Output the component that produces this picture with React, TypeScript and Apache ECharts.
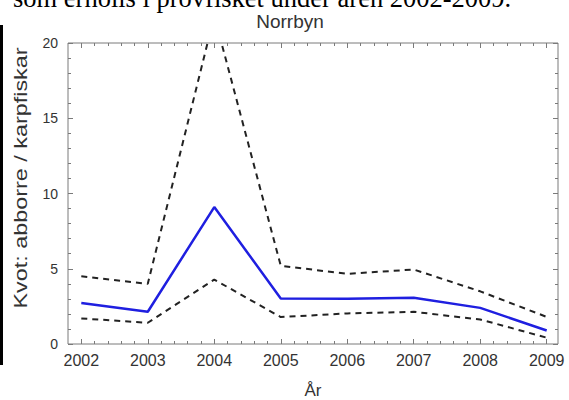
import React, { useEffect, useRef } from "react";
import * as echarts from "echarts";

const years = [2002, 2003, 2004, 2005, 2006, 2007, 2008, 2009];
const ratio = [2.73, 2.14, 9.1, 3.03, 3.0, 3.07, 2.4, 0.9];
const upper = [4.5, 4.0, 21.8, 5.2, 4.66, 4.95, 3.5, 1.8];
const lower = [1.7, 1.41, 4.28, 1.79, 2.03, 2.14, 1.63, 0.42];
const xMin = 2001.8;
const xMax = 2009.17;
const minorX: number[] = [];
for (let y = 2001; y <= 2009; y++) {
  for (let k = 1; k <= 4; k++) {
    const v = Math.round((y + k * 0.2) * 10) / 10;
    if (v > xMin && v < xMax) minorX.push(v);
  }
}

const FONT = "'Liberation Sans', Arial, sans-serif";
const FRAME = "#7a7a7a";
const LABEL = "#333";

export default function App() {
  const ref = useRef<HTMLDivElement>(null);
  useEffect(() => {
    document.body.style.margin = "0";
    const chart = echarts.init(ref.current!, null, { renderer: "svg" });
    const xAx = (pos: string, ticks: number[], len: number, labels: boolean) => ({
      type: "value",
      min: xMin,
      max: xMax,
      position: pos,
      axisLine: { show: false, onZero: false },
      axisTick: { show: true, inside: true, length: len, customValues: ticks, lineStyle: { color: FRAME, width: 1 } },
      axisLabel: labels
        ? { show: true, customValues: ticks, formatter: (v: number) => String(Math.round(v)), fontSize: 16, fontFamily: FONT, color: LABEL, margin: 8 }
        : { show: false },
      splitLine: { show: false },
    });
    const yAx = (pos: string, labels: boolean) => ({
      type: "value",
      min: 0,
      max: 20,
      interval: 5,
      position: pos,
      axisLine: { show: false, onZero: false },
      axisTick: { show: true, inside: true, length: 5, lineStyle: { color: FRAME, width: 1 } },
      minorTick: { show: true, splitNumber: 5, length: 3, lineStyle: { color: FRAME, width: 1 } },
      axisLabel: labels
        ? { show: true, fontSize: 14, fontFamily: FONT, color: LABEL, margin: 10 }
        : { show: false },
      splitLine: { show: false },
    });
    chart.setOption({
      animation: false,
      grid: {
        left: 68,
        right: 11,
        top: 43,
        bottom: 56,
        containLabel: false,
        show: true,
        borderColor: FRAME,
        borderWidth: 1,
        backgroundColor: "transparent",
      },
      xAxis: [
        xAx("bottom", years, 5, true),
        xAx("top", years, 5, false),
        xAx("bottom", minorX, 3, false),
        xAx("top", minorX, 3, false),
      ],
      yAxis: [yAx("left", true), yAx("right", false)],
      graphic: [
        { type: "rect", shape: { x: 0, y: 25, width: 3, height: 340 }, style: { fill: "#000" } },
        {
          type: "text",
          x: 13,
          y: -2,
          style: { text: "som erhölls i provfisket under åren 2002-2009.", font: "26.5px 'Liberation Serif', 'Times New Roman', serif", fill: "#000", verticalAlign: "middle" },
        },
        {
          type: "text",
          x: 290,
          y: 21,
          style: { text: "Norrbyn", font: `19px ${FONT}`, fill: LABEL, align: "center", verticalAlign: "middle" },
        },
        {
          type: "text",
          x: 313,
          y: 390,
          style: { text: "År", font: `17px ${FONT}`, fill: LABEL, align: "center", verticalAlign: "middle" },
        },
        {
          type: "text",
          x: 21,
          y: 178,
          rotation: Math.PI / 2,
          scaleX: 1.3,
          style: { text: "Kvot: abborre / karpfiskar", font: `18px ${FONT}`, fill: LABEL, align: "center", verticalAlign: "middle" },
        },
      ],
      series: [
        {
          type: "line",
          data: years.map((y, i) => [y, upper[i]]),
          symbol: "none",
          clip: true,
          lineStyle: { color: "#222", width: 2, type: [6, 5] },
        },
        {
          type: "line",
          data: years.map((y, i) => [y, lower[i]]),
          symbol: "none",
          clip: true,
          lineStyle: { color: "#222", width: 2, type: [6, 5] },
        },
        {
          type: "line",
          data: years.map((y, i) => [y, ratio[i]]),
          symbol: "none",
          clip: true,
          lineStyle: { color: "#1f1fe0", width: 2.5 },
        },
      ],
    });
    return () => chart.dispose();
  }, []);
  return <div ref={ref} style={{ width: 569, height: 400 }} />;
}
